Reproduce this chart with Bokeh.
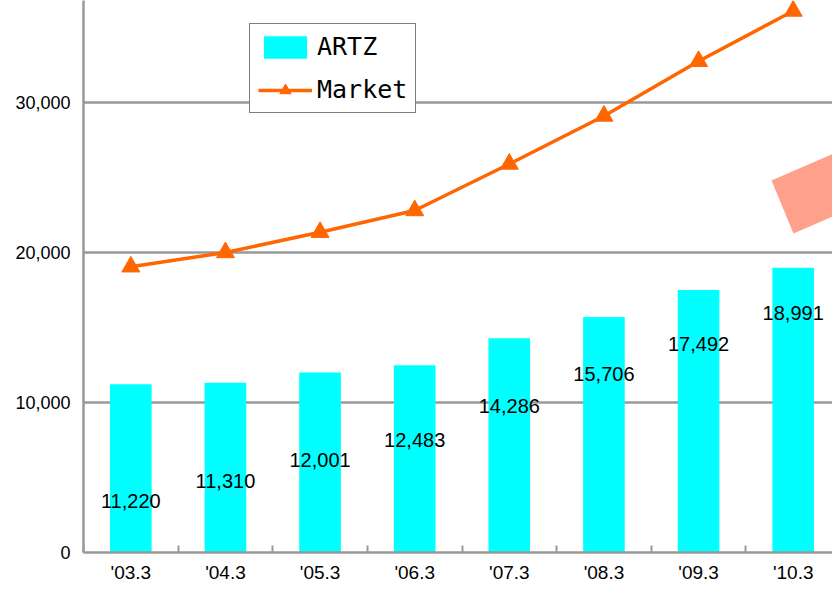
from bokeh.plotting import figure
from bokeh.models import (Range1d, FixedTicker, NumeralTickFormatter, Legend,
                          LegendItem, ColumnDataSource, PolyAnnotation, LabelSet)
from bokeh.embed import file_html
from bokeh.resources import INLINE
from bokeh.core.properties import value

# ---------------- data ----------------
periods = ["'03.3", "'04.3", "'05.3", "'06.3", "'07.3", "'08.3", "'09.3", "'10.3"]
artz = [11220, 11310, 12001, 12483, 14286, 15706, 17492, 18991]
market = [19050, 20000, 21350, 22800, 25900, 29100, 32750, 36100]
label_y = [3430, 4770, 6200, 7500, 9800, 11930, 13870, 15970]
y_ticks = [0, 10000, 20000, 30000]

# ---------------- layout ----------------
W, H = 832, 585
LEFT = 83            # y-axis position (px)
BASE = 552           # x-axis position (px)
BOTTOM = H - BASE
CAT_PX = 94.625      # pixels per category
PX_PER_10K = 150.0   # pixels per 10,000
N = len(periods)
X_MAX = (W - LEFT) / CAT_PX
Y_MAX = BASE / PX_PER_10K * 10000

GRAY = "#999999"
ORANGE = "#FF6600"
CYAN = "#00FFFF"

xs = [i + 0.5 for i in range(N)]
src = ColumnDataSource(dict(
    x=xs, artz=artz, market=market, ly=label_y,
    lbl=[f"{v:,}" for v in artz],
))

p = figure(width=W, height=H, output_backend="svg", toolbar_location=None,
           x_range=Range1d(0, X_MAX), y_range=Range1d(0, Y_MAX),
           min_border_left=LEFT, min_border_right=0, min_border_top=0,
           min_border_bottom=BOTTOM, background_fill_color="white",
           border_fill_color="white")
p.outline_line_color = None

# decorative salmon band (pixel geometry -> data coords)
def px2x(px):
    return (px - LEFT) / CAT_PX

def py2y(py):
    return (BASE - py) / PX_PER_10K * 10000

band_px = [(771, 180), (832, 153.5), (832, 216), (793, 233)]
p.add_layout(PolyAnnotation(xs=[px2x(a) for a, b in band_px],
                            ys=[py2y(b) for a, b in band_px],
                            fill_color="#FFA08A", fill_alpha=1.0,
                            line_color=None, level="underlay"))

bars = p.vbar(x="x", top="artz", width=0.44, source=src,
              fill_color=CYAN, line_color=None)
line = p.line(x="x", y="market", source=src, line_color=ORANGE, line_width=3.5)
pts = p.scatter(x="x", y="market", source=src, marker="triangle", size=18,
                fill_color=ORANGE, line_color=ORANGE)

labels = LabelSet(x="x", y="ly", text="lbl", source=src,
                  text_align="center", text_baseline="middle",
                  text_font=value("Liberation Sans"), text_font_size="20px",
                  text_color="black")
p.add_layout(labels)

# ---------------- axes ----------------
xa = p.xaxis[0]
xa.ticker = FixedTicker(ticks=xs, minor_ticks=list(range(N + 1)))
xa.major_label_overrides = {x: lab for x, lab in zip(xs, periods)}
xa.major_tick_in = 0
xa.major_tick_out = 0
xa.minor_tick_in = 7
xa.minor_tick_out = 0
xa.minor_tick_line_color = GRAY
xa.minor_tick_line_width = 2
xa.axis_line_color = GRAY
xa.axis_line_width = 2.5
xa.major_label_standoff = 9
xa.major_label_text_font = "Liberation Sans"
xa.major_label_text_font_size = "19px"
xa.major_label_text_color = "black"

ya = p.yaxis[0]
ya.ticker = FixedTicker(ticks=y_ticks)
ya.formatter = NumeralTickFormatter(format="0,0")
ya.major_tick_in = 0
ya.major_tick_out = 0
ya.minor_tick_line_color = None
ya.axis_line_color = GRAY
ya.axis_line_width = 2.5
ya.major_label_standoff = 13
ya.major_label_text_font = "Liberation Sans"
ya.major_label_text_font_size = "18px"
ya.major_label_text_color = "black"

p.xgrid.grid_line_color = None
p.ygrid.ticker = FixedTicker(ticks=y_ticks[1:])
p.ygrid.grid_line_color = GRAY
p.ygrid.grid_line_width = 2.5

# ---------------- legend ----------------
legend = Legend(items=[LegendItem(label="ARTZ", renderers=[bars]),
                       LegendItem(label="Market", renderers=[line, pts])],
                location=(249 - LEFT, BASE - 113), orientation="vertical",
                border_line_color="black", border_line_width=1,
                background_fill_color="white", background_fill_alpha=1.0,
                label_text_font="DejaVu Sans Mono", label_text_font_size="25px",
                label_text_color="black",
                glyph_width=54, glyph_height=28, padding=8, spacing=14,
                label_standoff=5, margin=0)
p.add_layout(legend)

open("out.html", "w").write(file_html(p, INLINE))
